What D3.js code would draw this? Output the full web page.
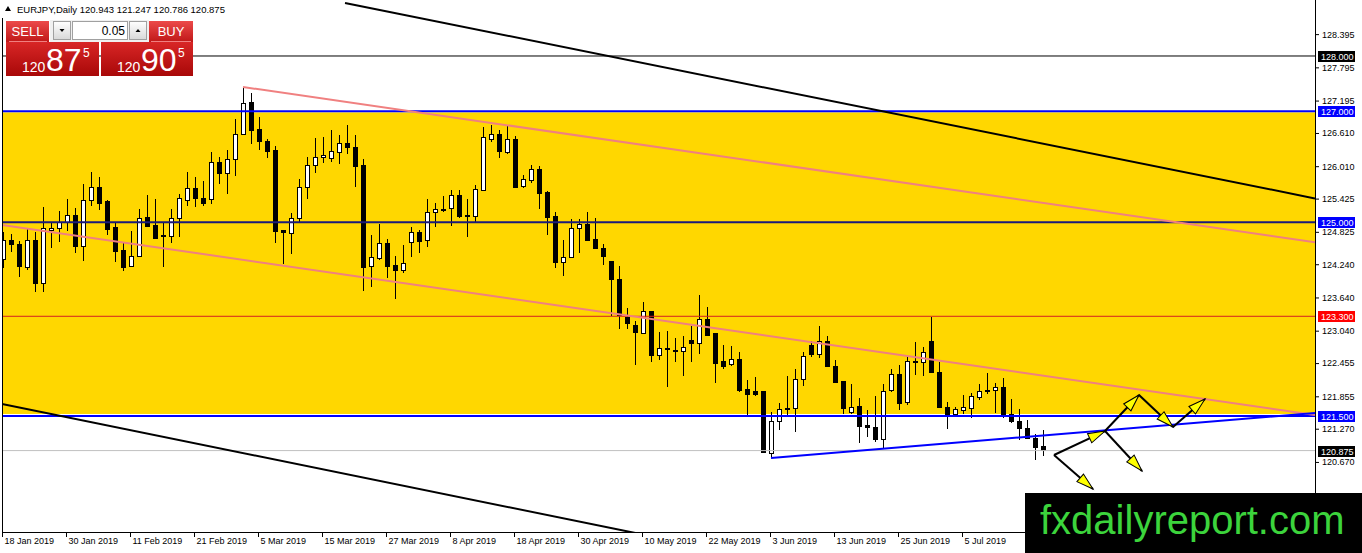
<!DOCTYPE html>
<html lang="en">
<head>
<meta charset="UTF-8">
<title>EURJPY Daily</title>
<script src="https://cdn.jsdelivr.net/npm/d3@7"></script>
<style>
  body { margin: 0; background: #fff; }
  text { font-family: "Liberation Sans", Arial, sans-serif; }
</style>
</head>
<body>
<script>
// EURJPY daily candles, 18 Jan 2019 .. 19 Jul 2019
const opens = [124.334,124.677,124.605,124.172,124.677,123.883,124.840,124.894,125.002,125.111,
  124.569,125.382,125.634,125.364,124.912,124.479,124.208,124.388,125.075,124.948,
  124.750,124.732,125.057,125.382,125.616,125.418,125.400,126.068,125.887,126.140,
  126.591,127.169,126.664,126.465,126.302,124.840,124.786,125.057,125.634,126.014,
  126.176,126.158,126.266,126.411,126.339,126.014,124.190,124.352,124.623,124.226,
  124.118,124.641,124.804,124.677,125.165,125.219,125.255,125.490,125.111,125.093,
  125.580,126.501,126.591,126.266,126.501,125.652,125.743,125.959,125.544,125.093,
  124.280,124.370,124.894,124.966,124.695,124.533,124.298,123.973,123.287,123.142,
  122.998,123.395,122.583,122.727,122.691,122.673,122.854,122.817,123.251,122.998,
  122.492,122.438,122.511,121.987,121.933,121.933,120.831,121.409,121.608,121.626,
  122.167,122.781,122.619,122.836,122.402,122.131,121.571,121.680,121.319,121.283,
  121.084,121.951,122.240,121.752,122.492,122.474,122.836,122.294,121.662,121.535,
  121.590,121.626,121.842,121.951,121.951,122.023,121.535,121.409,121.265,121.102,
  120.943];
const highs = [124.822,124.786,124.659,124.894,124.822,125.273,125.002,125.201,125.418,125.255,
  125.689,125.905,125.815,125.400,125.002,124.641,124.840,125.237,125.490,125.418,
  124.984,125.237,125.508,125.905,125.815,125.743,126.266,126.176,126.302,126.862,
  127.440,127.332,126.898,126.501,126.375,124.858,125.165,125.779,126.176,126.519,
  126.537,126.664,126.573,126.754,126.573,126.140,124.768,124.966,124.695,124.388,
  124.587,124.912,124.858,125.418,125.345,125.472,125.580,125.580,125.418,125.671,
  126.718,126.754,126.664,126.736,126.555,125.851,126.032,126.014,125.562,125.183,
  124.677,125.057,125.057,125.183,125.075,124.605,124.298,124.208,123.449,123.215,
  123.558,123.395,123.016,123.034,122.908,122.944,123.124,123.684,123.468,122.998,
  122.781,122.763,122.655,122.149,122.204,121.951,121.571,121.734,122.222,122.348,
  122.655,122.854,123.124,122.944,122.511,122.131,122.077,121.824,121.608,121.860,
  122.077,122.348,122.420,122.565,122.836,122.745,123.287,122.474,121.752,121.662,
  121.878,121.915,122.077,122.276,122.095,122.185,121.806,121.626,121.427,121.174,
  121.247];
const lows = [124.172,124.461,124.009,124.136,123.738,123.738,124.533,124.641,124.840,124.443,
  124.298,125.291,125.219,124.768,124.280,124.118,124.190,124.370,124.912,124.695,
  124.190,124.623,124.732,125.291,125.273,125.291,125.327,125.689,125.508,125.833,
  126.573,126.411,126.302,126.158,124.623,124.244,124.425,125.002,125.418,125.887,
  126.068,126.086,126.050,126.230,125.634,123.756,123.829,124.316,123.991,123.612,
  124.081,124.370,124.443,124.551,124.912,125.183,124.930,125.075,124.732,124.984,
  125.562,126.447,126.158,126.230,125.616,125.616,125.707,125.237,124.768,124.172,
  124.027,124.352,124.443,124.659,124.515,124.226,123.305,123.070,123.070,122.420,
  122.980,122.474,122.511,122.023,122.474,122.222,122.474,122.619,122.944,122.095,
  122.348,122.402,121.933,121.517,121.860,120.831,120.759,121.247,121.481,121.210,
  122.041,122.565,122.547,122.384,122.095,121.535,121.535,121.012,121.120,121.030,
  120.903,121.933,121.608,121.698,122.240,122.222,122.294,121.644,121.265,121.499,
  121.535,121.463,121.788,121.896,121.553,121.463,121.373,121.066,121.084,120.705,
  120.786];
const closes = [124.677,124.605,124.190,124.677,123.883,124.894,124.894,125.002,125.111,124.569,
  125.382,125.634,125.345,124.876,124.461,124.172,124.388,125.057,124.930,124.713,
  124.732,125.057,125.418,125.616,125.418,125.345,126.068,125.887,126.140,126.591,
  127.151,126.646,126.447,126.284,124.822,124.804,125.057,125.634,126.014,126.176,
  126.212,126.284,126.411,126.339,125.996,124.172,124.370,124.623,124.208,124.118,
  124.262,124.804,124.659,125.165,125.237,125.237,125.490,125.093,125.093,125.598,
  126.537,126.591,126.284,126.501,125.634,125.761,125.959,125.526,125.075,124.280,
  124.370,124.894,124.966,124.677,124.515,124.388,123.973,123.323,123.161,123.016,
  123.395,122.583,122.727,122.709,122.673,122.745,122.817,123.251,122.962,122.456,
  122.402,122.511,121.951,121.896,121.896,120.849,121.409,121.608,121.626,122.167,
  122.565,122.601,122.836,122.402,122.113,121.626,121.662,121.301,121.283,121.084,
  121.933,122.240,121.734,122.492,122.474,122.655,122.294,121.644,121.535,121.608,
  121.662,121.860,121.933,121.933,122.023,121.535,121.409,121.265,121.102,120.922,
  120.875];

const dateLabels = ["18 Jan 2019","30 Jan 2019","11 Feb 2019","21 Feb 2019","5 Mar 2019","15 Mar 2019",
  "27 Mar 2019","8 Apr 2019","18 Apr 2019","30 Apr 2019","10 May 2019","22 May 2019","3 Jun 2019",
  "13 Jun 2019","25 Jun 2019","5 Jul 2019"];
const priceTicks = [128.395,127.795,127.195,126.610,126.010,125.425,124.825,124.240,123.640,
  123.040,122.455,121.855,121.270,120.670,120.070];

// horizontal levels [price, line colour, tag colour, width]
const levels = [
  [128.000, "#000000", "#000000", 1],
  [127.000, "#0000ff", "#0000ff", 2],
  [125.000, "#1a1a7a", "#0000ff", 2],
  [123.300, "#d42020", "#ff0000", 1],
  [121.500, "#0000ff", "#0000ff", 2],
  [120.875, "#c0c0c0", "#000000", 1]
];
const zone = [127.000, 121.500];

// trend lines: [bar1, price1, bar2, price2, colour, ray from first point]
const trendLines = [
  [42.75, 128.957, 130, 126.418, "#000000", true],
  [0, 121.713, 130, 117.888, "#000000", false],
  [30, 127.440, 130, 125.349, "#f08080", true],
  [0, 124.947, 130, 122.229, "#f08080", false],
  [96, 120.741, 130, 121.147, "#0000ff", true]
];
// projection arrows: [barFrom, priceFrom, barTo, priceTo]
const arrows = [
  [131.375, 120.795, 137.75, 121.228],
  [137.75, 121.228, 142.0, 121.878],
  [142.0, 121.878, 146.25, 121.301],
  [146.25, 121.301, 150.25, 121.806],
  [131.375, 120.795, 136.25, 120.181],
  [137.75, 121.228, 142.375, 120.506]
];

const w = 1362, h = 553;
const plotL = 2, plotR = 1315, plotT = 0, plotB = 532;

const dates = d3.timeDay.range(new Date(2019, 0, 18), new Date(2019, 6, 20))
                .filter(d => d.getDay() % 6 !== 0);
const bars = closes.map((c, i) => ({ i, o: opens[i], h: highs[i], l: lows[i], c }));

const xScale = d3.scaleLinear().domain([0, bars.length - 1]).range([3, 1043]);
const yScale = d3.scaleLinear().domain([119.405, 129.011]).range([plotB, plotT]);

const svg = d3.select("body").append("svg")
  .attr("width", w).attr("height", h)
  .style("display", "block");

svg.append("rect").attr("width", w).attr("height", h).attr("fill", "#fff");

const defs = svg.append("defs");
defs.append("clipPath").attr("id", "plot")
  .append("rect").attr("x", plotL).attr("y", plotT)
  .attr("width", plotR - plotL).attr("height", plotB - plotT);

function grad(id, c1, c2) {
  const g = defs.append("linearGradient").attr("id", id)
    .attr("x1", 0).attr("y1", 0).attr("x2", 0).attr("y2", 1);
  g.append("stop").attr("offset", "0%").attr("stop-color", c1);
  g.append("stop").attr("offset", "100%").attr("stop-color", c2);
}
grad("btnRed", "#ec4a4a", "#c01818");
grad("boxRed", "#d82626", "#a80808");
grad("btnGrey", "#ffffff", "#d8d8d8");

const plot = svg.append("g").attr("clip-path", "url(#plot)");

// gold zone
plot.append("rect")
  .attr("x", plotL).attr("width", plotR - plotL)
  .attr("y", yScale(zone[0]) + 1)
  .attr("height", yScale(zone[1]) - yScale(zone[0]) - 3)
  .attr("fill", "#ffd700");

// candles
const candle = plot.append("g").attr("shape-rendering", "crispEdges");
candle.selectAll("line")
  .data(bars).enter().append("line")
  .attr("x1", d => Math.round(xScale(d.i)) + 0.5)
  .attr("x2", d => Math.round(xScale(d.i)) + 0.5)
  .attr("y1", d => yScale(d.h))
  .attr("y2", d => yScale(d.l))
  .attr("stroke", "#000");
candle.selectAll("rect")
  .data(bars).enter().append("rect")
  .attr("x", d => Math.round(xScale(d.i)) - 1.5)
  .attr("width", 4)
  .attr("y", d => yScale(Math.max(d.o, d.c)))
  .attr("height", d => Math.max(0.5, Math.abs(yScale(d.o) - yScale(d.c))))
  .attr("fill", d => d.c >= d.o ? "#fff" : "#000")
  .attr("stroke", "#000");

// horizontal levels
plot.selectAll("line.level")
  .data(levels).enter().append("line")
  .attr("class", "level")
  .attr("x1", plotL).attr("x2", plotR)
  .attr("y1", d => yScale(d[0])).attr("y2", d => yScale(d[0]))
  .attr("stroke", d => d[1]).attr("stroke-width", d => d[3]);

// trend lines, extended across the plot
function extend(t) {
  const x1 = xScale(t[0]), y1 = yScale(t[1]), x2 = xScale(t[2]), y2 = yScale(t[3]);
  const k = (y2 - y1) / (x2 - x1);
  const xa = t[5] ? x1 : plotL;
  return [xa, y1 + k * (xa - x1), plotR, y1 + k * (plotR - x1)];
}
plot.selectAll("line.trend")
  .data(trendLines).enter().append("line")
  .attr("class", "trend")
  .each(function (d) {
    const e = extend(d);
    d3.select(this).attr("x1", e[0]).attr("y1", e[1]).attr("x2", e[2]).attr("y2", e[3]);
  })
  .attr("stroke", d => d[4]).attr("stroke-width", 2);

// arrows
const arr = plot.append("g");
arrows.forEach(a => {
  const x1 = xScale(a[0]), y1 = yScale(a[1]), x2 = xScale(a[2]), y2 = yScale(a[3]);
  arr.append("line").attr("x1", x1).attr("y1", y1).attr("x2", x2).attr("y2", y2)
    .attr("stroke", "#000").attr("stroke-width", 2);
  const ang = Math.atan2(y2 - y1, x2 - x1) * 180 / Math.PI;
  arr.append("path")
    .attr("d", "M0,0 L-17,-5 L-17,5 Z")
    .attr("transform", `translate(${x2},${y2}) rotate(${ang})`)
    .attr("fill", "#ffff00").attr("stroke", "#000").attr("stroke-width", 1);
});

// right price axis
const yAxis = d3.axisRight(yScale).tickValues(priceTicks)
  .tickFormat(d3.format(".3f")).tickSize(4).tickPadding(3);
const ya = svg.append("g").attr("transform", `translate(${plotR},0)`).call(yAxis);
ya.select(".domain").remove();
ya.selectAll("text").attr("font-size", 9).attr("fill", "#000")
  .attr("font-family", "Liberation Sans, Arial, sans-serif");

// bottom date axis
const parseDay = d3.timeParse("%d %b %Y");
const tickIdx = dateLabels.map(s => dates.findIndex(d => +d === +parseDay(s)));
const xAxis = d3.axisBottom(xScale).tickValues(tickIdx)
  .tickFormat((d, k) => dateLabels[k]).tickSize(5);
const xa = svg.append("g").attr("transform", `translate(0,${plotB})`).call(xAxis);
xa.select(".domain").remove();
xa.selectAll(".tick line").attr("transform", "translate(-1,0)");
xa.selectAll("text").attr("font-size", 9).attr("fill", "#000")
  .attr("text-anchor", "start").attr("x", 1).attr("y", 6)
  .attr("font-family", "Liberation Sans, Arial, sans-serif");

// plot frame
svg.append("path")
  .attr("d", `M${plotL + 0.5},${plotT} V${plotB + 0.5} H${plotR + 0.5} V${plotT}`)
  .attr("fill", "none").attr("stroke", "#000").attr("shape-rendering", "crispEdges");

// level tags on the price scale
const tags = svg.append("g");
levels.forEach(l => {
  const y = Math.round(yScale(l[0]));
  tags.append("rect").attr("x", plotR + 3).attr("y", y - 5)
    .attr("width", 37).attr("height", 11).attr("fill", l[2]);
  tags.append("text").attr("x", plotR + 6).attr("y", y + 4)
    .attr("font-size", 9).attr("fill", "#fff").text(d3.format(".3f")(l[0]));
});

// header
svg.append("rect").attr("x", 0).attr("y", 0).attr("width", 300).attr("height", 18).attr("fill", "#fff");
svg.append("path").attr("d", "M5,11 L8,6 L11,11 Z").attr("fill", "#000");
svg.append("text").attr("x", 17).attr("y", 13).attr("font-size", 9.5)
  .text("EURJPY,Daily  " + [opens, highs, lows, closes].map(a => a[a.length - 1].toFixed(3)).join(" "));

// one-click trading panel
const panel = svg.append("g");
panel.append("rect").attr("x", 50).attr("y", 20).attr("width", 99).attr("height", 22).attr("fill", "#f0f0f0");
panel.append("rect").attr("x", 6).attr("y", 21).attr("width", 43).attr("height", 21).attr("fill", "url(#btnRed)");
panel.append("rect").attr("x", 149).attr("y", 21).attr("width", 44).attr("height", 21).attr("fill", "url(#btnRed)");
panel.append("line").attr("x1", 9).attr("x2", 47).attr("y1", 41.5).attr("y2", 41.5).attr("stroke", "#f08080");
panel.append("line").attr("x1", 151).attr("x2", 191).attr("y1", 41.5).attr("y2", 41.5).attr("stroke", "#f08080");
panel.append("text").attr("x", 27.5).attr("y", 36).attr("text-anchor", "middle")
  .attr("font-size", 13).attr("fill", "#fff").text("SELL");
panel.append("text").attr("x", 171).attr("y", 36).attr("text-anchor", "middle")
  .attr("font-size", 13).attr("fill", "#fff").text("BUY");
panel.append("rect").attr("x", 53.5).attr("y", 21.5).attr("width", 17).attr("height", 18)
  .attr("fill", "url(#btnGrey)").attr("stroke", "#a0a0a0");
panel.append("rect").attr("x", 72.5).attr("y", 21.5).attr("width", 55).attr("height", 18)
  .attr("fill", "#fff").attr("stroke", "#a0a0a0");
panel.append("rect").attr("x", 129.5).attr("y", 21.5).attr("width", 17).attr("height", 18)
  .attr("fill", "url(#btnGrey)").attr("stroke", "#a0a0a0");
panel.append("path").attr("d", "M59.5,29 L64.5,29 L62,32 Z").attr("fill", "#000");
panel.append("path").attr("d", "M135.5,32 L140.5,32 L138,29 Z").attr("fill", "#000");
panel.append("text").attr("x", 125).attr("y", 35).attr("text-anchor", "end")
  .attr("font-size", 12).text("0.05");

[[6, 93, "120", "87", "5"], [101, 92, "120", "90", "5"]].forEach(b => {
  panel.append("rect").attr("x", b[0]).attr("y", 42).attr("width", b[1]).attr("height", 34)
    .attr("fill", "url(#boxRed)");
  panel.append("text").attr("x", b[0] + 16).attr("y", 72).attr("font-size", 14)
    .attr("fill", "#fff").text(b[2]);
  panel.append("text").attr("x", b[0] + 40).attr("y", 71).attr("font-size", 32)
    .attr("fill", "#fff").text(b[3]);
  panel.append("text").attr("x", b[0] + 77).attr("y", 57).attr("font-size", 12)
    .attr("fill", "#fff").text(b[4]);
});

// watermark
svg.append("rect").attr("x", 1025).attr("y", 493).attr("width", 337).attr("height", 60).attr("fill", "#000");
svg.append("text").attr("x", 1040).attr("y", 534).attr("font-size", 40)
  .attr("fill", "#3cd43c").text("fxdailyreport.com");
</script>
</body>
</html>
